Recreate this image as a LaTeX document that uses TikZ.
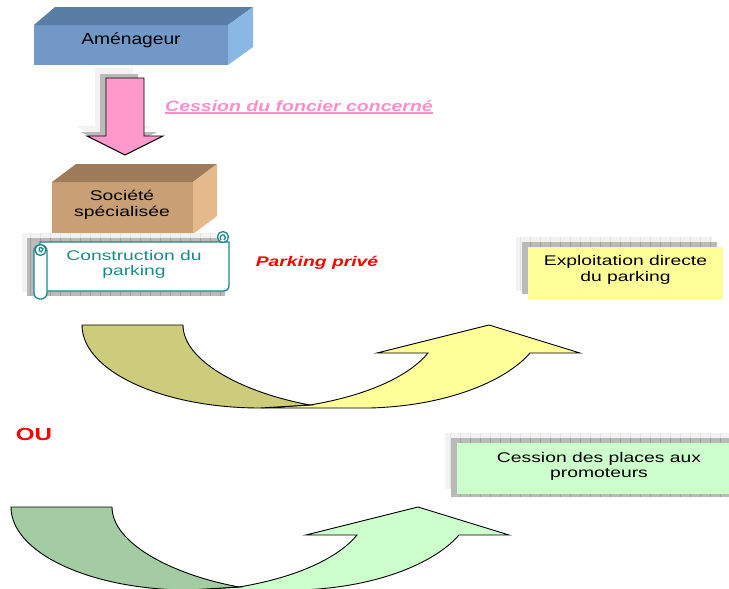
\documentclass[tikz,border=0pt]{standalone}
\usepackage{fontspec}
\setmainfont{Liberation Sans}[FakeStretch=1.38]
\newfontfamily\wideA{Liberation Sans}[FakeStretch=1.2]
\newfontfamily\wideB{Liberation Sans}[FakeStretch=1.3]

\definecolor{amenfront}{HTML}{7198C6}
\definecolor{amentop}{HTML}{5A7DA5}
\definecolor{amenside}{HTML}{8BB7E3}
\definecolor{socfront}{HTML}{C99F76}
\definecolor{soctop}{HTML}{9E7B5B}
\definecolor{socside}{HTML}{E4BA8C}
\definecolor{pinkfill}{HTML}{FF99CC}
\definecolor{pinktext}{HTML}{FF8EC6}
\definecolor{scrollteal}{HTML}{1B8A8A}
\definecolor{yellowlight}{HTML}{FFFF99}
\definecolor{yellowdark}{HTML}{CCCC7A}
\definecolor{greenlight}{HTML}{CCFFCC}
\definecolor{greendark}{HTML}{A3CCA3}
\definecolor{alertred}{HTML}{FF0000}

\tikzset{
  txt/.style={inner sep=0pt, outer sep=0pt, align=center, text=black,
              font=\fontsize{14}{16}\selectfont},
  boxnode/.style={inner sep=0pt, outer sep=0pt, draw=none, anchor=north west},
  shadowlight/.style={fill=black!5},
  shadowdark/.style={fill=black!27},
  gridlight/.style={draw=black!11, line width=0.4pt},
  griddark/.style={draw=black!38, line width=0.4pt},
  outline/.style={draw=black, line width=0.9pt, line join=miter},
  scrollline/.style={draw=scrollteal, line width=1.3pt},
  pics/bendarrow/.style 2 args={code={
    % front sheet with the arrow head
    \path[outline, fill=#2] (310,405) .. controls (370,395) and (410,375) .. (428,353)
      -- (377,353) -- (489,325) -- (580,353) -- (530,353)
      .. controls (505,382) and (445,406) .. (370,408) -- (262,408) -- cycle;
    % underside of the tail
    \path[outline, fill=#1] (82,325) -- (183,325)
      .. controls (183,360) and (240,392) .. (310,405)
      -- (260,408) .. controls (162,408) and (82,371) .. (82,325) -- cycle;
  }}
}

\begin{document}
\begin{tikzpicture}[x=1pt,y=-1pt]
\useasboundingbox (0,0) rectangle (729,589);

% ---- Amenageur block
\node[boxnode, fill=amenfront, minimum width=194pt, minimum height=40pt] (amen) at (34,25) {};
\fill[amentop] (amen.north west) -- ++(21,-18) -- ++(198,0) -- (amen.north east) -- cycle;
\fill[amenside] (amen.north east) -- ++(25,-18) -- ++(0,40) -- (amen.south east) -- cycle;
\node[txt, font=\wideA\fontsize{16}{18}\selectfont, anchor=base] (amenlabel) at (131,45) {Aménageur};

% ---- block arrow down, with its shadow
\begin{scope}[shift={(-11,-10)}]
  \fill[shadowlight] (106,78) -- (144,78) -- (144,136) -- (163,136) -- (125,155) -- (87,136) -- (106,136) -- cycle;
\end{scope}
\begin{scope}[shift={(-6,-4)}]
  \fill[shadowdark] (106,78) -- (144,78) -- (144,136) -- (163,136) -- (125,155) -- (87,136) -- (106,136) -- cycle;
\end{scope}
\path[outline, fill=pinkfill] (106,78) -- (144,78) -- (144,136) -- (163,136) -- (125,155) -- (87,136) -- (106,136) -- cycle;
\node[inner sep=0pt, anchor=base, text=pinktext, font=\wideB\fontsize{15}{17}\selectfont\bfseries\itshape] (cession) at (299,111) {Cession du foncier concerné};
\draw[pinktext, line width=1.3pt] ([yshift=-2pt]cession.base west) -- ([yshift=-2pt]cession.base east);

% ---- Societe specialisee block
\node[boxnode, fill=socfront, minimum width=141pt, minimum height=52pt] (soc) at (52,182) {};
\fill[soctop] (soc.north west) -- ++(24,-18) -- ++(141,0) -- (soc.north east) -- cycle;
\fill[socside] (soc.north east) -- ++(24,-18) -- ++(0,52) -- (soc.south east) -- cycle;
\node[txt, font=\fontsize{14}{16}\selectfont] (soclabel) at (122,205) {Société\\spécialisée};

% ---- scroll "Construction du parking"
\fill[shadowlight] (22,233) rectangle (221,292);
\draw[gridlight, step=10] (22,233) grid (221,292);
\fill[shadowdark] (27,238) rectangle (225,296);
\draw[griddark, step=10] (27,238) grid (225,296);
\path[scrollline, fill=white] (40,242) -- (229,242) -- (229,285)
  .. controls (229,289) and (227,291) .. (223,291) -- (40,291) -- cycle;
\path[scrollline, fill=white] (223,237) circle (5.5);
\draw[scrollline] (221,240) .. controls (219,238) and (221,234) .. (224,235)
  .. controls (226,236) and (226,239) .. (224,240);
\path[scrollline, fill=white, rounded corners=6pt] (34,245) rectangle (47,299);
\path[scrollline, fill=white] (40.5,250) circle (5.5);
\draw[scrollline] (42,252) .. controls (39,252) and (38,248) .. (40.5,247.5)
  .. controls (43,247) and (44,250) .. (42,251);
\node[txt, text=scrollteal, font=\fontsize{14}{15}\selectfont] (constr) at (134,264) {Construction du\\parking};

\node[inner sep=0pt, anchor=base, text=alertred, font=\fontsize{14}{16}\selectfont\bfseries\itshape] (prive) at (317,266) {Parking privé};

% ---- Exploitation directe du parking
\fill[shadowlight] (516,237) rectangle (712,291);
\draw[gridlight, step=10] (516,237) grid (712,291);
\fill[shadowdark] (522,242) rectangle (717,294);
\draw[griddark, step=10] (522,242) grid (717,294);
\node[boxnode, fill=yellowlight, minimum width=195pt, minimum height=52pt] (exploit) at (528,247) {};
\node[txt] (exploitlabel) at (625.5,270) {Exploitation directe\\du parking};

% ---- first curved arrow
\pic (bendA) at (0,0) {bendarrow={yellowdark}{yellowlight}};

% ---- OU
\node[inner sep=0pt, anchor=base, text=alertred, font=\fontsize{17.5}{20}\selectfont\bfseries] (ou) at (34,440) {OU};

% ---- Cession des places aux promoteurs
\fill[shadowlight] (445,433) rectangle (729,489);
\draw[gridlight, step=10] (445,433) grid (729,489);
\fill[shadowdark] (451,438) rectangle (729,497);
\draw[griddark, step=10] (451,438) grid (729,497);
\node[boxnode, fill=greenlight, minimum width=272pt, minimum height=51pt] (places) at (457,443) {};
\node[txt, font=\fontsize{14}{15}\selectfont] (placeslabel) at (599,466) {Cession des places aux\\promoteurs};

% ---- second curved arrow
\pic (bendB) at (-71,182) {bendarrow={greendark}{greenlight}};
\end{tikzpicture}
\end{document}
